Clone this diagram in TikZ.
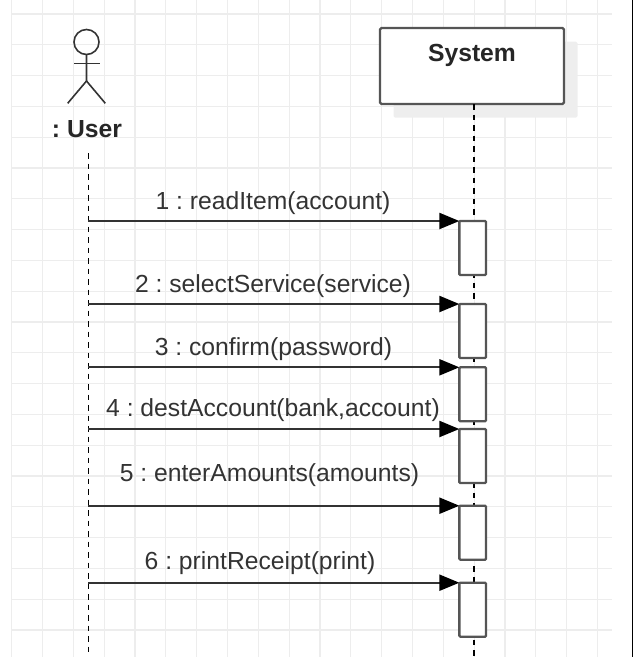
\documentclass[tikz,border=0pt]{standalone}
\usepackage{fontspec}
\setmainfont{Liberation Sans}
\usetikzlibrary{arrows.meta,shadows}
\definecolor{gridc}{HTML}{EDEDED}
\definecolor{boxc}{HTML}{555555}
\definecolor{txtc}{HTML}{333333}
\definecolor{shadc}{HTML}{EEEEEE}
\frenchspacing
\begin{document}
\begin{tikzpicture}[x=1pt,y=-1pt,
  gridline/.style={draw=gridc,line width=1.2pt},
  actorline/.style={draw=txtc,line width=1.6pt},
  lifeline/.style={draw=black,line width=1.6pt,dash pattern=on 5.5pt off 5pt},
  sysbox/.style={draw=boxc,line width=2.3pt,fill=white,rounded corners=1.5pt,
    minimum width=184pt,inner xsep=0pt,inner ysep=0pt,text height=33.7pt,text depth=42.3pt,
    font=\fontsize{24.7}{29}\selectfont\bfseries,text=black!85,outer sep=0pt,
    drop shadow={shadow xshift=13.5pt,shadow yshift=-13.5pt,fill=shadc,opacity=1}},
  actbox/.style={draw=boxc,line width=2.3pt,fill=white,rounded corners=1pt,
    minimum width=26.7pt,minimum height=54pt,inner sep=0pt,outer sep=0pt,anchor=north},
  msg/.style={draw=txtc,line width=2.2pt,-{Triangle[length=20pt,width=16pt,color=black]}},
  msglabel/.style={font=\fontsize{24.7}{29}\selectfont,text=txtc,anchor=base,inner sep=0pt},
  actorlabel/.style={font=\fontsize{24.7}{29}\selectfont\bfseries,text=black!85,anchor=base,inner sep=0pt}]
\useasboundingbox (0,0) rectangle (639,657);
% grid
\foreach \k in {0,...,19} \draw[gridline] ({11.7+30.83*\k},0) -- ({11.7+30.83*\k},657);
\foreach \k in {0,...,20} \draw[gridline] (11.7,{14+30.8*\k}) -- (611.7,{14+30.8*\k});
% right border
\draw[black,line width=1.5pt] (632.5,0) -- (632.5,657);
% actor
\draw[actorline] (86.5,42) circle[radius=12.5];
\draw[actorline] (74,63.3) -- (99.5,63.3);
\draw[actorline] (86.5,54.5) -- (86.5,81) -- (67.7,103.3);
\draw[actorline] (86.5,81) -- (105.3,103.3);
\node[actorlabel] (user) at (87,137.7) {: User};
% system
\node[sysbox,anchor=north] (sys) at (472,28) {System};
% lifelines
\coordinate (ut) at (88.3,153);
\coordinate (ub) at (88.3,657);
\coordinate (sb) at (474,657);
\draw[lifeline] (ut) -- (ub);
\draw[lifeline] (sys.south -| sb) -- (sb);
% activations
\node[actbox] (b1) at (472.7,221) {};
\node[actbox] (b2) at (472.7,304) {};
\node[actbox] (b3) at (472.7,367.3) {};
\node[actbox] (b4) at (472.7,429) {};
\node[actbox] (b5) at (472.7,505.7) {};
\node[actbox] (b6) at (472.7,582.7) {};
% messages
\draw[msg] (b1.north west -| ut) -- (b1.north west);
\draw[msg] (b2.north west -| ut) -- (b2.north west);
\draw[msg] (b3.north west -| ut) -- (b3.north west);
\draw[msg] (b4.north west -| ut) -- (b4.north west);
\draw[msg] (b5.north west -| ut) -- (b5.north west);
\draw[msg] (b6.north west -| ut) -- (b6.north west);
\node[msglabel] (l1) at (273,209.3) {1 : readItem(account)};
\node[msglabel] (l2) at (273,292.3) {2 : selectService(service)};
\node[msglabel] (l3) at (273.5,355.7) {3 : confirm(password)};
\node[msglabel] (l4) at (273,416) {4 : destAccount(bank,account)};
\node[msglabel] (l5) at (269.5,481.7) {5 : enterAmounts(amounts)};
\node[msglabel] (l6) at (260,569) {6 : printReceipt(print)};
\end{tikzpicture}
\end{document}
